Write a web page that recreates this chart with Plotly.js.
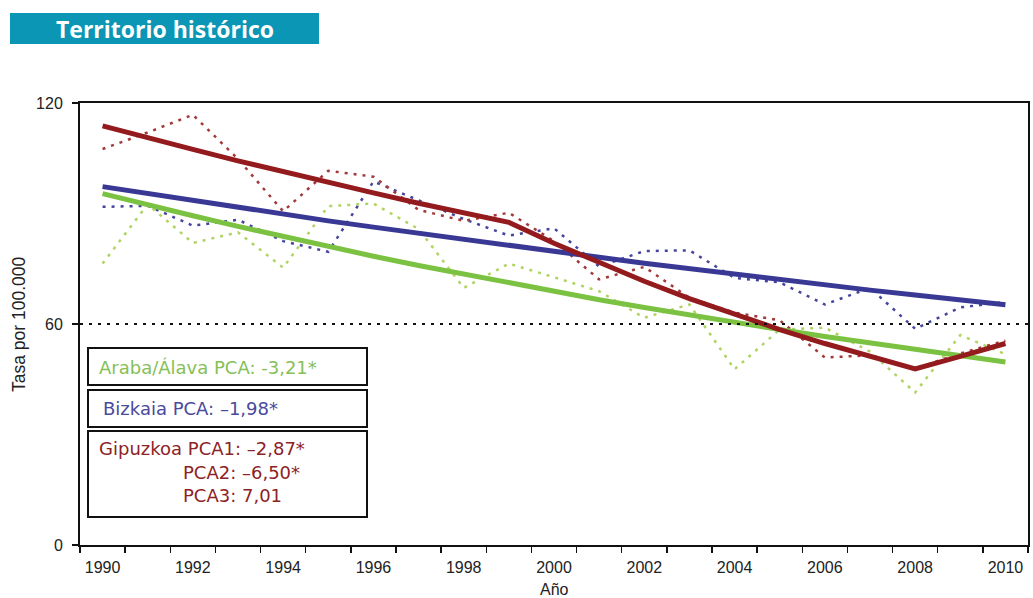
<!DOCTYPE html>
<html>
<head>
<meta charset="utf-8">
<script src="https://cdn.plot.ly/plotly-3.0.1.min.js"></script>
<style>
  html, body { margin: 0; padding: 0; background: #fff; }
  #chart { width: 1033px; height: 598px; }
</style>
</head>
<body>
<div id="chart"></div>
<script>
// ---- Data ----
const years = [1990, 1991, 1992, 1993, 1994, 1995, 1996, 1997, 1998, 1999, 2000,
               2001, 2002, 2003, 2004, 2005, 2006, 2007, 2008, 2009, 2010];

// Observed rates (dotted lines)
const arabaObs    = [76.4, 92.5, 82.0, 84.9, 75.3, 92.0, 92.7, 85.8, 69.8, 76.4, 72.7,
                     68.9, 61.7, 65.3, 47.7, 58.5, 59.0, 52.5, 41.4, 57.0, 51.8];
const bizkaiaObs  = [91.8, 92.1, 86.7, 88.3, 82.5, 79.6, 98.7, 93.6, 88.5, 84.0, 86.0,
                     75.6, 79.8, 80.0, 72.5, 71.3, 65.3, 69.8, 58.7, 64.5, 66.0];
const gipuzkoaObs = [107.5, 112.0, 116.8, 104.8, 90.6, 101.6, 100.0, 91.0, 88.0, 90.2, 82.5,
                     72.1, 75.5, 67.1, 63.1, 61.0, 50.9, 51.5, 47.9, 52.0, 55.5];

// Fitted joinpoint trends (solid lines)
const arabaFit    = [95.4, 92.3, 89.4, 86.5, 83.7, 81.0, 78.4, 75.9, 73.5, 71.1, 68.8,
                     66.6, 64.5, 62.4, 60.4, 58.5, 56.6, 54.8, 53.0, 51.3, 49.7];
const bizkaiaFit  = [97.3, 95.4, 93.5, 91.6, 89.8, 88.0, 86.3, 84.6, 82.9, 81.3, 79.6,
                     78.1, 76.5, 75.0, 73.5, 72.1, 70.6, 69.2, 67.9, 66.5, 65.2];
const gipuzkoaFit = [113.8, 110.5, 107.4, 104.3, 101.3, 98.4, 95.6, 92.8, 90.2, 87.6, 81.9,
                     76.6, 71.6, 66.9, 62.6, 58.5, 54.7, 51.2, 47.8, 51.2, 54.7];

const xTickVals  = [1990, 1992, 1994, 1996, 1998, 2000, 2002, 2004, 2006, 2008, 2010];
const xTickText  = ['1990', '1992', '1994', '1996', '1998', '2000', '2002', '2004', '2006', '2008', '2010'];
const yTickVals  = [0, 60, 120];
const yTickText  = ['0', '60', '120'];
const refLevel   = 60;

const headerText = 'Territorio histórico';
const xTitle = 'Año';
const yTitle = 'Tasa por 100.000';
const legendAraba = 'Araba/Álava PCA: -3,21*';
const legendBizkaia = 'Bizkaia PCA: –1,98*';
const legendGip1 = 'Gipuzkoa PCA1: –2,87*';
const legendGip2 = 'PCA2: –6,50*';
const legendGip3 = 'PCA3: 7,01';

// ---- Styles ----
const C = {
  greenFit: '#7cc242', greenObs: '#b0d462', greenTxt: '#86c057',
  blueFit: '#393995', blueObs: '#45459e', blueTxt: '#4a4a9c',
  redFit: '#941b1d', redObs: '#a23a3a', redTxt: '#8c2326',
  header: '#0a96b4'
};
const dotDash = '3px,6px';

function obs(y, color) {
  return { x: years, y: y, type: 'scatter', mode: 'lines',
           line: { color: color, width: 2.5, dash: dotDash }, hoverinfo: 'skip' };
}
function fit(y, color) {
  return { x: years, y: y, type: 'scatter', mode: 'lines',
           line: { color: color, width: 5 }, hoverinfo: 'skip' };
}

const traces = [
  obs(arabaObs, C.greenObs),
  obs(bizkaiaObs, C.blueObs),
  obs(gipuzkoaObs, C.redObs),
  fit(arabaFit, C.greenFit),
  fit(bizkaiaFit, C.blueFit),
  fit(gipuzkoaFit, C.redFit)
];

// geometry helpers (paper coords)
const L = 80, R = 1028, T = 103, B = 545;
const px = v => (v - L) / (R - L);
const py = v => (B - v) / (B - T);

const boxLine = { color: '#111', width: 2 };
const shapes = [
  { type: 'line', xref: 'paper', yref: 'y', x0: 0, x1: 1, y0: refLevel, y1: refLevel,
    line: { color: '#111', width: 2, dash: dotDash } },
  { type: 'rect', xref: 'paper', yref: 'paper', x0: px(88), x1: px(367), y0: py(385), y1: py(348),
    line: boxLine, fillcolor: '#fff' },
  { type: 'rect', xref: 'paper', yref: 'paper', x0: px(88), x1: px(367), y0: py(427), y1: py(390),
    line: boxLine, fillcolor: '#fff' },
  { type: 'rect', xref: 'paper', yref: 'paper', x0: px(88), x1: px(367), y0: py(517), y1: py(431),
    line: boxLine, fillcolor: '#fff' },
  { type: 'rect', xref: 'paper', yref: 'paper', x0: px(10), x1: px(319), y0: py(44), y1: py(13),
    line: { width: 0 }, fillcolor: C.header, layer: 'above' }
];

const legFont = (c) => ({ family: 'DejaVu Sans, sans-serif', size: 18, color: c });
const annotations = [
  { text: legendAraba, xref: 'paper', yref: 'paper', x: px(97), y: py(367),
    xanchor: 'left', yanchor: 'middle', showarrow: false, font: legFont(C.greenTxt) },
  { text: legendBizkaia, xref: 'paper', yref: 'paper', x: px(101), y: py(408),
    xanchor: 'left', yanchor: 'middle', showarrow: false, font: legFont(C.blueTxt) },
  { text: legendGip1, xref: 'paper', yref: 'paper', x: px(97), y: py(448),
    xanchor: 'left', yanchor: 'middle', showarrow: false, font: legFont(C.redTxt) },
  { text: legendGip2, xref: 'paper', yref: 'paper', x: px(181), y: py(472),
    xanchor: 'left', yanchor: 'middle', showarrow: false, font: legFont(C.redTxt) },
  { text: legendGip3, xref: 'paper', yref: 'paper', x: px(181), y: py(495),
    xanchor: 'left', yanchor: 'middle', showarrow: false, font: legFont(C.redTxt) },
  { text: headerText, xref: 'paper', yref: 'paper', x: px(165), y: py(29),
    xanchor: 'center', yanchor: 'middle', showarrow: false,
    font: { family: 'Open Sans, sans-serif', size: 23, color: '#fff', weight: 700 } },
  { text: xTitle, xref: 'paper', yref: 'paper', x: px(554), y: py(589),
    xanchor: 'center', yanchor: 'middle', showarrow: false,
    font: { family: 'Liberation Sans, Arial, sans-serif', size: 16, color: '#222' } },
  { text: yTitle, xref: 'paper', yref: 'paper', x: px(19), y: py(324), textangle: -90,
    xanchor: 'center', yanchor: 'middle', showarrow: false,
    font: { family: 'Liberation Sans, Arial, sans-serif', size: 17.5, color: '#222' } }
];

const tickFont = { family: 'Liberation Sans, Arial, sans-serif', size: 16, color: '#222' };

const layout = {
  width: 1033, height: 598,
  margin: { l: L, r: 1033 - R, t: T, b: 598 - B, pad: 0 },
  paper_bgcolor: '#fff', plot_bgcolor: '#fff',
  showlegend: false,
  xaxis: {
    range: [1989.5, 2010.5], tickvals: xTickVals, ticktext: xTickText,
    ticks: '', showgrid: false, zeroline: false,
    showline: true, linecolor: '#111', linewidth: 2, mirror: true,
    tickfont: tickFont, ticklabelstandoff: 7,
    minor: { ticks: 'outside', tick0: 1989.5, dtick: 1, ticklen: 6, tickcolor: '#111', tickwidth: 1.5, showgrid: false }
  },
  yaxis: {
    range: [0, 120], tickvals: yTickVals, ticktext: yTickText,
    ticks: 'outside', ticklen: 6, tickcolor: '#111', tickwidth: 1.5,
    showgrid: false, zeroline: false,
    showline: true, linecolor: '#111', linewidth: 2, mirror: true,
    tickfont: tickFont, ticklabelstandoff: 6
  },
  shapes: shapes,
  annotations: annotations
};

Plotly.newPlot('chart', traces, layout, { staticPlot: true, displayModeBar: false });
</script>
</body>
</html>
